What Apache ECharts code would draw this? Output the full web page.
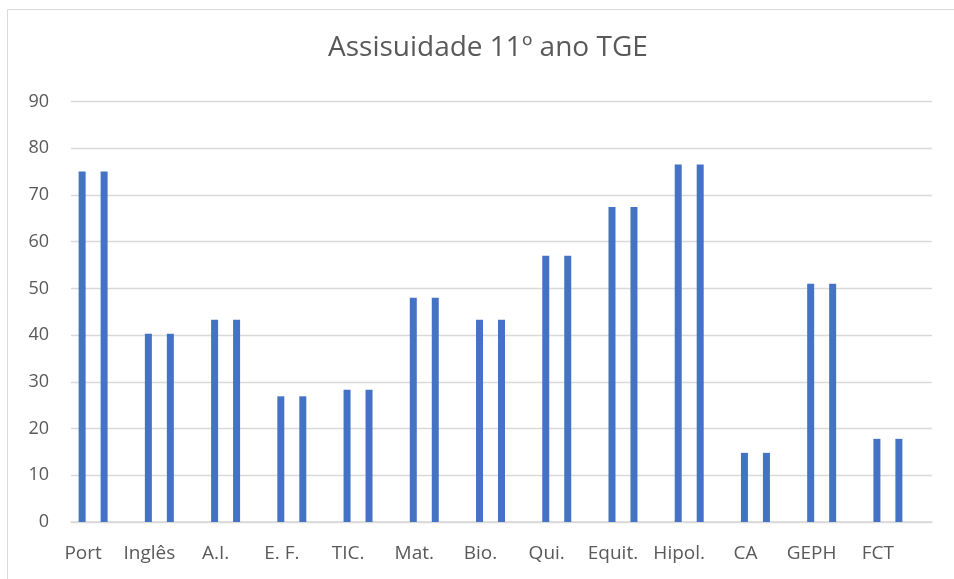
<!DOCTYPE html>
<html>
<head>
<meta charset="utf-8">
<script src="https://cdn.jsdelivr.net/npm/echarts@6/dist/echarts.min.js"></script>
<style>
  html, body { margin: 0; padding: 0; background: #fff; }
  #chart { width: 954px; height: 579px; }
</style>
</head>
<body>
<div id="chart"></div>
<script>
// data
const disciplinas = ["Port", "Inglês", "A.I.", "E. F.", "TIC.", "Mat.", "Bio.", "Qui.", "Equit.", "Hipol.", "CA", "GEPH", "FCT"];
const serie1 = [75, 40.3, 43.3, 26.9, 28.3, 48, 43.3, 57, 67.4, 76.5, 14.8, 51, 17.8];
const serie2 = [75, 40.3, 43.3, 26.9, 28.3, 48, 43.3, 57, 67.4, 76.5, 14.8, 51, 17.8];
// third column is empty in the sheet, it still takes its slot
const serie3 = ["-", "-", "-", "-", "-", "-", "-", "-", "-", "-", "-", "-", "-"];
const yTicks = [0, 10, 20, 30, 40, 50, 60, 70, 80, 90];

const cinza = "#595959";
const azul = "#4472C4";
const fonte = "'Open Sans', 'Liberation Sans', sans-serif";

let chart = echarts.init(document.querySelector("#chart"));

function barSeries(name, data) {
    return {
        name: name,
        type: "bar",
        data: data,
        barWidth: 7,
        barGap: "214%",
        itemStyle: { color: azul },
        silent: true
    };
}

let option = {
    animation: false,
    graphic: [{
        type: "rect",
        shape: { x: 7.5, y: 9.5, width: 960, height: 600 },
        style: { fill: "none", stroke: "#d9d9d9", lineWidth: 1 }
    }],
    title: {
        text: "Assisuidade 11º ano TGE",
        left: 323,
        top: 29,
        textStyle: { color: cinza, fontSize: 28, fontWeight: "normal", fontFamily: fonte }
    },
    grid: { left: 71, right: 22, top: 101.5, bottom: 57 },
    xAxis: {
        type: "category",
        data: disciplinas,
        axisTick: { show: false },
        axisLine: { lineStyle: { color: "#d9d9d9", width: 1.5 } },
        axisLabel: {
            color: cinza,
            fontSize: 19,
            fontFamily: fonte,
            margin: 22,
            interval: 0,
            padding: [0, 42, 0, 0]
        }
    },
    yAxis: {
        type: "value",
        min: yTicks[0],
        max: yTicks[yTicks.length - 1],
        interval: 10,
        axisLine: { show: false },
        axisTick: { show: false },
        splitLine: { lineStyle: { color: "#d9d9d9", width: 1.3 } },
        axisLabel: { color: cinza, fontSize: 18, fontFamily: fonte, margin: 22 }
    },
    series: [
        barSeries("Série 1", serie1),
        barSeries("Série 2", serie2),
        barSeries("Série 3", serie3)
    ]
};

chart.setOption(option);
</script>
</body>
</html>
